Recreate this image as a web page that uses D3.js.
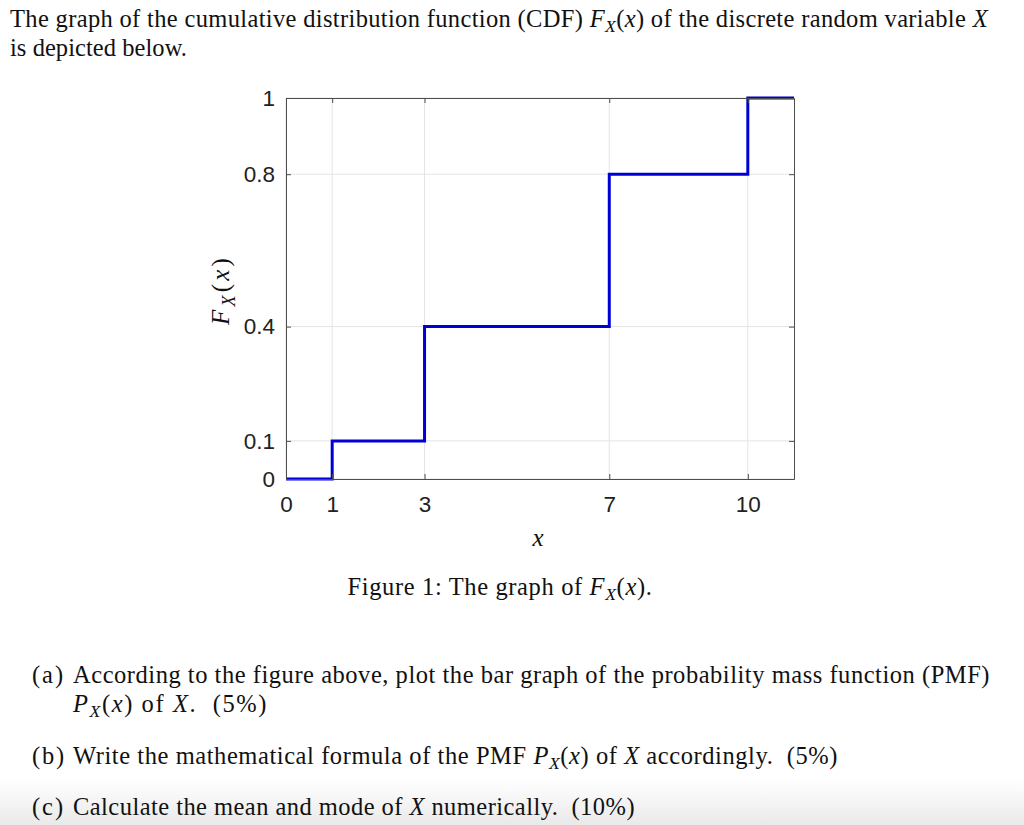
<!DOCTYPE html>
<html>
<head>
<meta charset="utf-8">
<script src="https://cdn.jsdelivr.net/npm/d3@7"></script>
<style>
  html, body { margin: 0; padding: 0; background: #fff; }
  svg { display: block; }
  text { white-space: pre; }
</style>
</head>
<body>
<script>
// CDF jump points and values
const jumpX = [0, 1, 3, 7, 10];
const cdfValues = [0, 0.1, 0.4, 0.8, 1];
const xEnd = 11;
const xTicks = [0, 1, 3, 7, 10];
const yTicks = [0, 0.1, 0.4, 0.8, 1];

const width = 1024;
const height = 825;
const plot = { left: 286, right: 794, top: 98, bottom: 479 };
const bodySize = 24.5;

const svg = d3.select('body')
  .append('svg')
  .attr('width', width)
  .attr('height', height);

// faint gray band at the bottom of the page
const grad = svg.append('defs').append('linearGradient')
  .attr('id', 'fade').attr('x1', 0).attr('y1', 0).attr('x2', 0).attr('y2', 1);
grad.append('stop').attr('offset', '0%').attr('stop-color', '#ffffff');
grad.append('stop').attr('offset', '100%').attr('stop-color', '#e9e9e9');
svg.append('rect')
  .attr('x', 0).attr('y', 780).attr('width', width).attr('height', 45)
  .attr('fill', 'url(#fade)');

const serif = '"Liberation Serif", "Times New Roman", serif';
const sans = '"Liberation Sans", Arial, sans-serif';

// rich text: parts are [text, kind] with kind '' | 'i' | 'sub' | 'after'
// fitW stretches the letter spacing so the line spans that many pixels
function richText(x, y, parts, size, anchor, fitW) {
  const t = svg.append('text')
    .attr('x', x).attr('y', y)
    .attr('font-family', serif)
    .attr('font-size', size)
    .attr('fill', '#111')
    .attr('text-anchor', anchor || 'start');
  parts.forEach(([s, kind]) => {
    const sp = t.append('tspan').text(s);
    if (kind === 'i') sp.attr('font-style', 'italic');
    if (kind === 'sub') {
      sp.attr('font-style', 'italic').attr('font-size', size * 0.72)
        .attr('dy', size * 0.22);
    }
    if (kind === 'after') sp.attr('dy', -size * 0.22);
  });
  if (fitW) {
    const n = parts.reduce((a, p) => a + p[0].length, 0);
    const w = t.node().getComputedTextLength();
    t.attr('letter-spacing', (fitW - w) / n);
  }
  return t;
}

const FX = (f) => [[f, 'i'], ['X', 'sub'], ['(', 'after'], ['x', 'i'], [')', '']];

richText(10, 27, [
  ['The graph of the cumulative distribution function (CDF) ', ''],
  ...FX('F'),
  [' of the discrete random variable ', ''], ['X', 'i']
], bodySize, 'start', 978);
richText(10, 56, [['is depicted below.', '']], bodySize, 'start', 177);

const x = d3.scaleLinear().domain([0, xEnd]).range([plot.left, plot.right]);
const y = d3.scaleLinear().domain([0, 1]).range([plot.bottom, plot.top]);

// grid
const g = svg.append('g');
g.selectAll('.vgrid').data(xTicks).enter().append('line')
  .attr('x1', d => x(d)).attr('x2', d => x(d))
  .attr('y1', plot.top).attr('y2', plot.bottom)
  .attr('stroke', '#e4e4e4').attr('stroke-width', 1);
g.selectAll('.hgrid').data(yTicks).enter().append('line')
  .attr('x1', plot.left).attr('x2', plot.right)
  .attr('y1', d => y(d)).attr('y2', d => y(d))
  .attr('stroke', '#e4e4e4').attr('stroke-width', 1);

// step line
const pts = jumpX.map((v, i) => [v, cdfValues[i]]);
pts.push([xEnd, cdfValues[cdfValues.length - 1]]);
const line = d3.line()
  .x(d => x(d[0])).y(d => y(d[1]))
  .curve(d3.curveStepAfter);
svg.append('path')
  .datum(pts)
  .attr('d', line)
  .attr('fill', 'none')
  .attr('stroke', '#0000d4')
  .attr('stroke-width', 3);

// axes with inward ticks, box on all sides
const tickCol = '#4d4d4d';
const axB = svg.append('g')
  .attr('transform', `translate(0,${plot.bottom})`)
  .call(d3.axisBottom(x).tickValues(xTicks).tickSizeInner(-5).tickSizeOuter(0).tickPadding(17));
const axT = svg.append('g')
  .attr('transform', `translate(0,${plot.top})`)
  .call(d3.axisTop(x).tickValues(xTicks).tickSizeInner(-5).tickSizeOuter(0).tickFormat(''));
const axL = svg.append('g')
  .attr('transform', `translate(${plot.left},0)`)
  .call(d3.axisLeft(y).tickValues(yTicks).tickSizeInner(-5).tickSizeOuter(0).tickPadding(11)
    .tickFormat(d3.format('~g')));
const axR = svg.append('g')
  .attr('transform', `translate(${plot.right},0)`)
  .call(d3.axisRight(y).tickValues(yTicks).tickSizeInner(-5).tickSizeOuter(0).tickFormat(''));

[axB, axT, axL, axR].forEach(a => {
  a.select('.domain').attr('stroke', tickCol).attr('stroke-width', 1);
  a.selectAll('.tick line').attr('stroke', tickCol);
  a.selectAll('.tick text')
    .attr('font-family', sans).attr('font-size', 22.5).attr('fill', '#222');
});

// axis labels
richText(538, 546, [['x', 'i']], 25, 'middle');
richText(0, 0, FX('F'), 25, 'middle', 70)
  .attr('transform', 'translate(229,290) rotate(-90)');

// caption and questions
richText(500, 595, [['Figure 1: The graph of ', ''], ...FX('F'), ['.', '']], bodySize, 'middle', 305);

richText(32, 683, [['(a)', '']], bodySize, 'start', 33);
richText(73, 683, [['According to the figure above, plot the bar graph of the probability mass function (PMF)', '']], bodySize, 'start', 917);
richText(73, 712, [...FX('P'), [' of ', ''], ['X', 'i'], ['.  (5%)', '']], bodySize, 'start', 195);
richText(32, 764, [['(b)', '']], bodySize, 'start', 34);
richText(73, 764, [['Write the mathematical formula of the PMF ', ''], ...FX('P'),
  [' of ', ''], ['X', 'i'], [' accordingly.  (5%)', '']], bodySize, 'start', 765);
richText(32, 815, [['(c)', '']], bodySize, 'start', 33);
richText(73, 815, [['Calculate the mean and mode of ', ''], ['X', 'i'], [' numerically.  (10%)', '']], bodySize, 'start', 562);
</script>
</body>
</html>
